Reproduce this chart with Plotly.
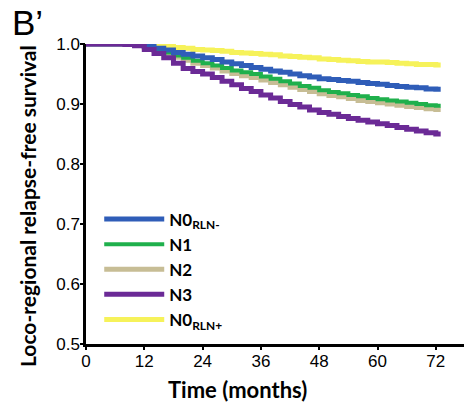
import plotly.graph_objects as go

months = [0, 2, 4, 6, 8, 10, 12, 14, 16, 18, 20, 22, 24, 26, 28, 30, 32, 34, 36, 38,
          40, 42, 44, 46, 48, 50, 52, 54, 56, 58, 60, 62, 64, 66, 68, 70, 72, 73]

n0_rln_neg = [1, 1, 1, 1, 1, 0.998, 0.996, 0.993, 0.990, 0.986, 0.983, 0.980, 0.977, 0.974,
              0.970, 0.967, 0.964, 0.961, 0.958, 0.955, 0.953, 0.950, 0.947, 0.945, 0.942,
              0.941, 0.939, 0.938, 0.936, 0.934, 0.933, 0.931, 0.929, 0.928, 0.927, 0.925,
              0.9245, 0.9245]
n1 = [1, 1, 1, 1, 1, 0.998, 0.995, 0.991, 0.986, 0.981, 0.977, 0.972, 0.968, 0.964, 0.960,
      0.956, 0.953, 0.950, 0.946, 0.942, 0.938, 0.934, 0.930, 0.927, 0.923, 0.920, 0.918,
      0.915, 0.913, 0.910, 0.908, 0.906, 0.904, 0.902, 0.900, 0.898, 0.897, 0.897]
n2 = [1, 1, 1, 1, 1, 0.998, 0.994, 0.989, 0.984, 0.978, 0.973, 0.968, 0.964, 0.960, 0.955,
      0.951, 0.947, 0.944, 0.940, 0.936, 0.932, 0.928, 0.924, 0.921, 0.917, 0.914, 0.912,
      0.909, 0.906, 0.904, 0.902, 0.900, 0.898, 0.896, 0.894, 0.892, 0.891, 0.891]
n3 = [1, 1, 1, 1, 0.999, 0.997, 0.991, 0.984, 0.977, 0.968, 0.959, 0.954, 0.950, 0.944,
      0.938, 0.932, 0.926, 0.921, 0.915, 0.910, 0.904, 0.899, 0.895, 0.890, 0.886, 0.883,
      0.879, 0.876, 0.873, 0.870, 0.867, 0.864, 0.861, 0.858, 0.855, 0.852, 0.850, 0.850]
n0_rln_pos = [1, 1, 1, 1, 1, 0.999, 0.998, 0.997, 0.996, 0.994, 0.993, 0.991, 0.990, 0.989,
              0.988, 0.986, 0.985, 0.984, 0.983, 0.982, 0.980, 0.979, 0.978, 0.977, 0.975,
              0.974, 0.973, 0.972, 0.971, 0.970, 0.970, 0.969, 0.968, 0.967, 0.966, 0.966,
              0.965, 0.965]

x_ticks = [0, 12, 24, 36, 48, 60, 72]
y_ticks = [0.5, 0.6, 0.7, 0.8, 0.9, 1.0]
y_tick_labels = ["0.5", "0.6", "0.7", "0.8", "0.9", "1.0"]

series = [
    ("<b>N0<sub>RLN-</sub></b>", n0_rln_neg, "#2f5db8", 5),
    ("<b>N1</b>", n1, "#1fb04c", 4),
    ("<b>N2</b>", n2, "#c7bd95", 5),
    ("<b>N3</b>", n3, "#6b2a96", 5),
    ("<b>N0<sub>RLN+</sub></b>", n0_rln_pos, "#f6f25a", 5),
]

X_RANGE = [0, 77.8]
Y_RANGE = [0.5, 1.0]

fig = go.Figure()
order = [4, 2, 1, 0, 3]
for i in order:
    name, vals, color, w = series[i]
    on_top = (i == 3)
    fig.add_trace(go.Scatter(
        x=months, y=vals, mode="lines", name=name,
        line=dict(color=color, width=w, shape="hv"),
        cliponaxis=False, legendrank=i + 1,
        xaxis="x2" if on_top else "x", yaxis="y2" if on_top else "y",
    ))

fig.update_layout(
    width=464, height=403,
    margin=dict(l=86, r=0, t=44, b=59),
    paper_bgcolor="white", plot_bgcolor="white",
    font=dict(family="Liberation Sans, Arial, sans-serif", color="black"),
    showlegend=True,
    legend=dict(
        x=0.035, y=0.475, xanchor="left", yanchor="top",
        font=dict(family="Lato, sans-serif", size=17, color="black"),
        tracegroupgap=0, itemwidth=60,
        bgcolor="rgba(0,0,0,0)",
    ),
    xaxis=dict(
        range=X_RANGE, tickvals=x_ticks, ticks="", showline=True, linecolor="black",
        linewidth=2.5, showgrid=False, zeroline=False, tickfont=dict(size=17),
    ),
    yaxis=dict(
        range=Y_RANGE, tickvals=y_ticks, ticktext=y_tick_labels, ticks="",
        showline=True, linecolor="black", linewidth=2.5, showgrid=False,
        zeroline=False, tickfont=dict(size=17),
    ),
    xaxis2=dict(
        range=X_RANGE, tickvals=x_ticks, ticks="outside", ticklen=5, tickwidth=1.5,
        tickcolor="black", showticklabels=False, showline=False, showgrid=False,
        zeroline=False, overlaying="x", matches="x",
    ),
    yaxis2=dict(
        range=Y_RANGE, tickvals=y_ticks, ticks="outside", ticklen=5, tickwidth=1.5,
        tickcolor="black", showticklabels=False, showline=False, showgrid=False,
        zeroline=False, overlaying="y", matches="y",
    ),
    annotations=[
        dict(text="<b>Loco-regional relapse-free survival</b>", x=-59 / 378, y=0.46,
             xref="paper", yref="paper", xanchor="center", yanchor="middle",
             textangle=-90, showarrow=False,
             font=dict(family="Lato, sans-serif", size=21)),
        dict(text="<b>Time (months)</b>", x=0.40, y=-0.15, xref="paper", yref="paper",
             xanchor="center", yanchor="middle", showarrow=False,
             font=dict(family="Lato, sans-serif", size=22)),
        dict(text="B\u2019", x=-76 / 378, y=1 + 43 / 300, xref="paper", yref="paper",
             showarrow=False, xanchor="left", yanchor="top", font=dict(size=35)),
    ],
)

fig.write_html("out.html")
